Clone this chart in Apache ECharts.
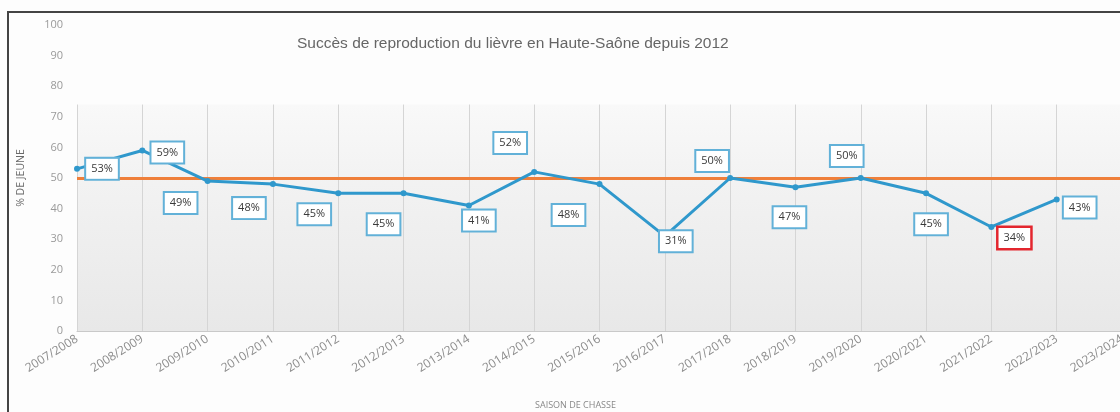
<!DOCTYPE html>
<html>
<head>
<meta charset="utf-8">
<script src="https://cdn.jsdelivr.net/npm/echarts@6/dist/echarts.min.js"></script>
<style>
html,body{margin:0;padding:0;background:#fff;overflow:hidden;}
#chart{width:1120px;height:412px;}
</style>
</head>
<body>
<div id="chart"></div>
<script>
// ---- data ----
const seasons = ['2007/2008','2008/2009','2009/2010','2010/2011','2011/2012','2012/2013','2013/2014','2014/2015','2015/2016','2016/2017','2017/2018','2018/2019','2019/2020','2020/2021','2021/2022','2022/2023','2023/2024'];
const youngShare = [53, 59, 49, 48, 45, 45, 41, 52, 48, 31, 50, 47, 50, 45, 34, 43];
const threshold = 50;
const highlightSeason = '2021/2022';
const yTicks = [0, 100, 10]; // min, max, interval
const titleText = 'Succès de reproduction du lièvre en Haute-Saône depuis 2012';
const yAxisTitle = '% DE JEUNE';
const xAxisTitle = 'SAISON DE CHASSE';

// ---- layout (label placement around each point) ----
const labelOffsets = [[25,0],[25,2],[-27,22],[-24,24],[-24,21],[-20,31],[10,15],[-24,-29],[-31,31],[11,5],[-18,-17],[-6,30],[-14,-22],[5,31],[23,11],[23,8]];

const chart = echarts.init(document.getElementById('chart'), null, { width: 1120, height: 412 });

const lineData = youngShare.map((v, i) => {
  const item = { value: v, label: { offset: labelOffsets[i] } };
  if (seasons[i] === highlightSeason) {
    item.label.borderColor = '#e3262e';
    item.label.borderWidth = 2.5;
  }
  return item;
});

const gridLines = seasons.map(s => [
  { coord: [s, yTicks[0]] },
  { coord: [s, 74] }
]);

const option = {
  backgroundColor: '#fdfdfd',
  animation: false,
  title: {
    text: titleText,
    left: 292,
    top: 31,
    textStyle: { fontFamily: 'Liberation Sans, Arial', fontSize: 15.5, fontWeight: 'normal', color: '#666' }
  },
  grid: { left: 77, right: -2, top: 25, bottom: 81, containLabel: false, outerBoundsMode: 'none' },
  xAxis: {
    type: 'category',
    data: seasons,
    boundaryGap: false,
    name: xAxisTitle,
    nameLocation: 'middle',
    nameGap: 70,
    nameTextStyle: { fontFamily: 'Open Sans', fontSize: 9, color: '#888', padding: [0, 48, 0, 0] },
    axisLine: { lineStyle: { color: '#c9c9c9', width: 1 } },
    axisTick: { show: false },
    axisLabel: { rotate: 32, interval: 0, margin: 7, color: '#8c8c8c', fontFamily: 'Open Sans', fontSize: 12 },
    splitLine: { show: false }
  },
  yAxis: {
    type: 'value',
    min: yTicks[0], max: yTicks[1], interval: yTicks[2],
    name: yAxisTitle,
    nameLocation: 'middle',
    nameGap: 50,
    nameRotate: 90,
    nameTextStyle: { fontFamily: 'Open Sans', fontSize: 10.5, color: '#6a6a6a' },
    axisLine: { show: false },
    axisTick: { show: false },
    axisLabel: { margin: 14, color: '#9a9a9a', fontFamily: 'Open Sans', fontSize: 11 },
    splitLine: { show: false }
  },
  series: [
    {
      type: 'line',
      data: [],
      silent: true,
      markArea: {
        silent: true,
        itemStyle: {
          color: {
            type: 'linear', x: 0, y: 0, x2: 0, y2: 1,
            colorStops: [
              { offset: 0, color: '#f9f9f9' },
              { offset: 0.35, color: '#f2f2f2' },
              { offset: 1, color: '#e8e8e8' }
            ]
          }
        },
        data: [[{ yAxis: 74 }, { yAxis: yTicks[0] }]]
      },
      markLine: {
        silent: true,
        symbol: 'none',
        label: { show: false },
        lineStyle: { color: '#d5d5d5', width: 1, type: 'solid' },
        data: gridLines
      }
    },
    {
      type: 'line',
      data: [],
      silent: true,
      z: 3,
      markLine: {
        silent: true,
        symbol: 'none',
        label: { show: false },
        lineStyle: { color: '#ef7f3a', width: 3, type: 'solid' },
        data: [{ yAxis: threshold }]
      }
    },
    {
      type: 'line',
      z: 5,
      data: lineData,
      symbol: 'circle',
      symbolSize: 6,
      lineStyle: { color: '#2f98cc', width: 3 },
      itemStyle: { color: '#2f98cc' },
      label: {
        show: true,
        position: 'inside',
        formatter: '{c}%',
        fontFamily: 'Open Sans',
        fontSize: 11,
        color: '#3a3a3a',
        backgroundColor: '#fff',
        borderColor: '#62b1d8',
        borderWidth: 2,
        padding: [5, 5, 4, 5]
      }
    }
  ],
  graphic: [
    {
      type: 'polyline',
      shape: { points: [[8, 412], [8, 12], [1120, 12]] },
      style: { stroke: '#444', lineWidth: 2, fill: null },
      z: 100
    }
  ]
};
chart.setOption(option);
</script>
</body>
</html>
